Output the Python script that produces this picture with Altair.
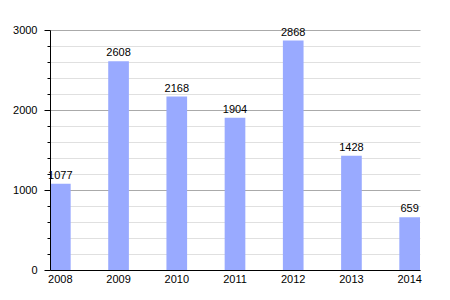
import altair as alt
import pandas as pd

years = ["2008", "2009", "2010", "2011", "2012", "2013", "2014"]
values = [1077, 2608, 2168, 1904, 2868, 1428, 659]

df = pd.DataFrame({"year": years, "value": values})

font = "Liberation Sans"
yscale = alt.Scale(domain=[0, 3000], nice=False)
xenc = alt.X("year:N", sort=years,
             scale=alt.Scale(paddingInner=0.645, paddingOuter=0),
             axis=alt.Axis(title=None, labelAngle=0, ticks=False, domainColor="#000",
                           labelColor="#000", labelFont=font, labelFontSize=11,
                           labelPadding=3, grid=False, zindex=2))

grid = alt.Chart(df).mark_bar(opacity=0).encode(
    y=alt.Y("value:Q", scale=yscale,
            axis=alt.Axis(title=None, orient="left", values=list(range(0, 3001, 200)), grid=True,
                          gridColor=alt.condition("datum.value % 1000 === 0", alt.value("#aaaaaa"), alt.value("#e0e0e0")),
                          labels=False, ticks=False, domain=False, zindex=0)),
)

bars = alt.Chart(df).mark_bar(color="#99aaff").encode(
    x=xenc,
    y=alt.Y("value:Q", scale=yscale,
            axis=alt.Axis(title=None, orient="left", values=list(range(0, 3001, 200)),
                          labelExpr="datum.value % 1000 === 0 ? datum.value : ''",
                          grid=False,
                          tickSize=alt.condition("datum.value % 1000 === 0", alt.value(6), alt.value(3)),
                          tickColor="#000", domainColor="#000",
                          labelColor="#000", labelFont=font, labelFontSize=11,
                          labelFontWeight="normal", labelPadding=7, zindex=2)),
)

labels = alt.Chart(df).mark_text(baseline="bottom", dy=-3, font=font, fontSize=11, color="#000").encode(
    x=alt.X("year:N", sort=years, axis=None),
    y=alt.Y("value:Q", scale=yscale, axis=None),
    text="value:Q",
)

chart = (grid + bars + labels).resolve_axis(y="independent", x="independent").properties(
    width=370, height=240,
    autosize=alt.AutoSizeParams(type="none"),
    padding={"left": 50, "top": 30, "right": 30, "bottom": 30},
).configure(background="white").configure_view(stroke=None)

chart.save("out.html", embed_options={"renderer": "svg", "actions": False})
